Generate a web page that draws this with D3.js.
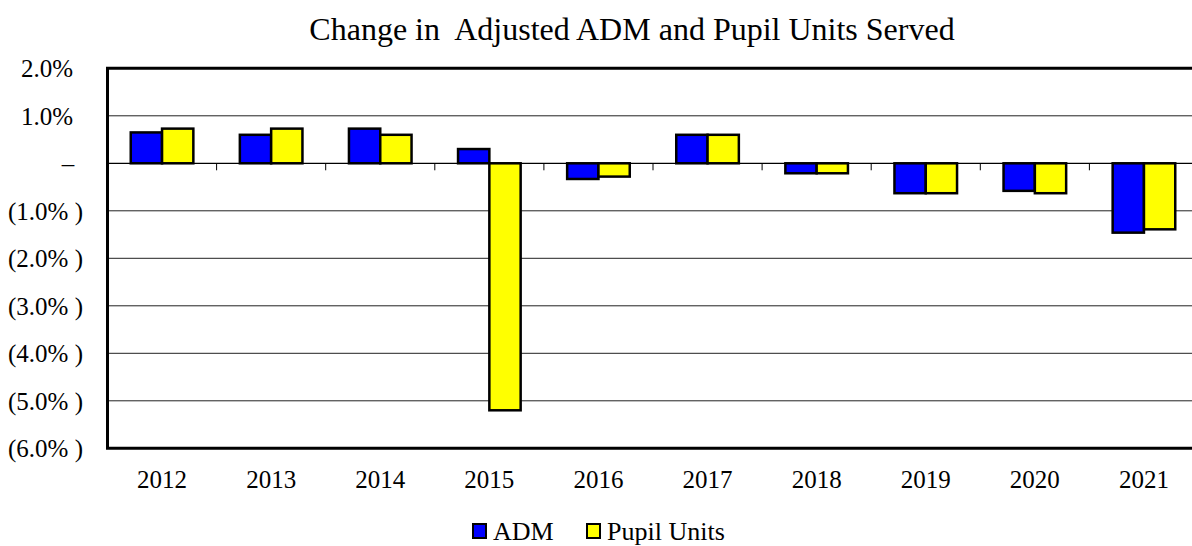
<!DOCTYPE html>
<html>
<head>
<meta charset="utf-8">
<script src="https://d3js.org/d3.v7.min.js"></script>
<style>
    body { margin: 0; background: #fff; }
    text { font-family: "Liberation Serif", "Times New Roman", serif; fill: #000; }
</style>
</head>
<body>
<svg width="1192" height="546"></svg>
<script>
    // data
    var years = ["2012", "2013", "2014", "2015", "2016", "2017", "2018", "2019", "2020", "2021"];
    var adm = [0.65, 0.60, 0.73, 0.30, -0.33, 0.60, -0.21, -0.63, -0.58, -1.46];
    var pupilUnits = [0.73, 0.73, 0.60, -5.20, -0.28, 0.60, -0.21, -0.63, -0.63, -1.39];
    var seriesNames = ["ADM", "Pupil Units"];
    var seriesColors = ["#0000ff", "#ffff00"];
    var yTicks = [2, 1, 0, -1, -2, -3, -4, -5, -6];

    var svg = d3.select("svg"),
        plotL = 107.5, plotR = 1198.5, plotT = 68.3, plotB = 448.3;

    var x = d3.scaleBand().domain(years).range([plotL, plotR]);
    var y = d3.scaleLinear().domain([-6, 2]).range([plotB, plotT]);
    var barW = 31.3;

    function fmt(v) {
        if (v === 0) return "\u2013";
        var s = Math.abs(v).toFixed(1) + "%";
        return v < 0 ? "(" + s + " )" : s;
    }

    // title
    svg.append("text")
        .attr("x", 632).attr("y", 40)
        .attr("text-anchor", "middle")
        .style("font-size", "32px")
        .style("white-space", "pre")
        .text("Change in  Adjusted ADM and Pupil Units Served");

    // gridlines
    svg.append("g").selectAll("line")
        .data(yTicks.filter(function (d) { return d !== 2 && d !== -6 && d !== 0; }))
        .join("line")
        .attr("x1", plotL).attr("x2", plotR)
        .attr("y1", function (d) { return y(d); })
        .attr("y2", function (d) { return y(d); })
        .attr("stroke", "#222").attr("stroke-width", 1);

    // y labels
    svg.append("g").selectAll("text")
        .data(yTicks)
        .join("text")
        .attr("x", function (d) { return d < 0 ? 83 : (d === 0 ? 68 : 73); })
        .attr("y", function (d) { return y(d); })
        .attr("dy", "0.35em")
        .attr("text-anchor", function (d) { return d === 0 ? "middle" : "end"; })
        .style("font-size", "25px")
        .style("white-space", "pre")
        .text(fmt);

    // bars
    var data = years.map(function (yr, i) { return { year: yr, vals: [adm[i], pupilUnits[i]] }; });
    var groups = svg.append("g").selectAll("g")
        .data(data)
        .join("g");
    groups.selectAll("rect")
        .data(function (d) { return d.vals.map(function (v, k) { return { year: d.year, v: v, k: k }; }); })
        .join("rect")
        .attr("x", function (d) { return x(d.year) + x.bandwidth() / 2 - barW + d.k * barW; })
        .attr("width", barW)
        .attr("y", function (d) { return Math.min(y(d.v), y(0)); })
        .attr("height", function (d) { return Math.abs(y(d.v) - y(0)); })
        .attr("fill", function (d) { return seriesColors[d.k]; })
        .attr("stroke", "#000").attr("stroke-width", 2.5);

    // zero axis with ticks
    svg.append("line")
        .attr("x1", plotL).attr("x2", plotR)
        .attr("y1", y(0)).attr("y2", y(0))
        .attr("stroke", "#000").attr("stroke-width", 1.2);
    svg.append("g").selectAll("line")
        .data(years.slice(1))
        .join("line")
        .attr("x1", function (d) { return x(d); }).attr("x2", function (d) { return x(d); })
        .attr("y1", y(0)).attr("y2", y(0) + 7)
        .attr("stroke", "#000").attr("stroke-width", 1);

    // frame
    svg.append("path")
        .attr("d", "M" + plotR + "," + plotT + "H" + plotL + "V" + plotB + "H" + plotR)
        .attr("fill", "none").attr("stroke", "#000").attr("stroke-width", 3);

    // x labels
    svg.append("g").selectAll("text")
        .data(years)
        .join("text")
        .attr("x", function (d) { return x(d) + x.bandwidth() / 2; })
        .attr("y", 488)
        .attr("text-anchor", "middle")
        .style("font-size", "25px")
        .text(function (d) { return d; });

    // legend
    var legend = svg.append("g");
    var lx = [473, 587];
    seriesNames.forEach(function (n, i) {
        legend.append("rect")
            .attr("x", lx[i]).attr("y", 524).attr("width", 13).attr("height", 14)
            .attr("fill", seriesColors[i]).attr("stroke", "#000").attr("stroke-width", 2);
        legend.append("text")
            .attr("x", lx[i] + 20).attr("y", 540)
            .style("font-size", "26px")
            .text(n);
    });
</script>
</body>
</html>
